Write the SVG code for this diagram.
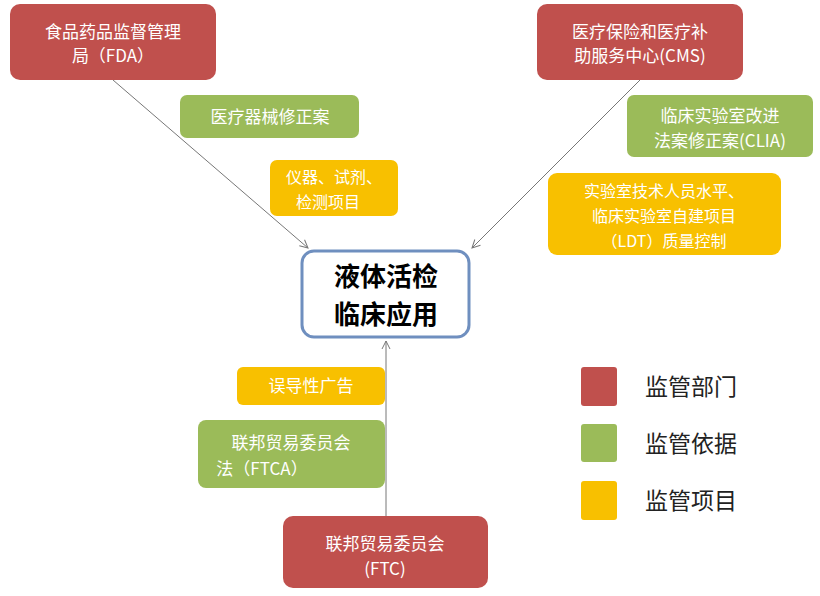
<svg xmlns="http://www.w3.org/2000/svg" width="820" height="596" viewBox="0 0 820 596">
<style>
text{font-family:"Noto Sans CJK SC","Liberation Serif",serif;text-anchor:middle}
.r{fill:#c0504d}.g{fill:#9bbb59}.y{fill:#f8c000}
.w{fill:#fff;font-size:17px}
.s{font-size:16px}
.k{fill:#000;font-size:26px;font-weight:bold}
.l{fill:#222;font-size:23px;text-anchor:start}
.c{stroke:#777;stroke-width:1;fill:none;marker-end:url(#a)}
</style>
<defs><marker id="a" markerWidth="10" markerHeight="10" refX="9" refY="5" orient="auto" markerUnits="userSpaceOnUse"><path d="M1,1L9,5L1,9" fill="none" stroke="#777"/></marker></defs>
<rect width="820" height="596" fill="#fff"/>
<g id="connectors">
<line class="c" x1="113" y1="80" x2="308" y2="248"/>
<line class="c" x1="640" y1="80" x2="472" y2="248"/>
<line class="c" x1="386" y1="516" x2="386" y2="341"/>
</g>
<g id="fda"><rect class="r" x="10" y="4" width="206" height="76" rx="10"/><text class="w" x="113" y="38">食品药品监督管理</text><text class="w" x="113" y="62">局（FDA）</text></g>
<g id="mda"><rect class="g" x="180" y="95" width="179" height="43" rx="7"/><text class="w" x="270" y="123">医疗器械修正案</text></g>
<g id="ins"><rect class="y" x="270" y="160" width="128" height="56" rx="7"/><text class="w s" x="334" y="183">仪器、试剂、</text><text class="w s" x="328" y="208">检测项目</text></g>
<g id="center"><rect x="302" y="251" width="167" height="86" rx="12" fill="#fff" stroke="#6f8fbf" stroke-width="3"/><text class="k" x="386" y="286">液体活检</text><text class="k" x="386" y="324">临床应用</text></g>
<g id="cms"><rect class="r" x="537" y="4" width="206" height="76" rx="10"/><text class="w" x="640" y="38">医疗保险和医疗补</text><text class="w" x="640" y="62">助服务中心(CMS)</text></g>
<g id="clia"><rect class="g" x="627" y="95" width="186" height="62" rx="7"/><text class="w" x="720" y="122">临床实验室改进</text><text class="w" x="720" y="147">法案修正案(CLIA)</text></g>
<g id="ldt"><rect class="y" x="548" y="173" width="233" height="82" rx="9"/><text class="w s" x="664" y="197">实验室技术人员水平、</text><text class="w s" x="664" y="222">临床实验室自建项目</text><text class="w s" x="664" y="247">（LDT）质量控制</text></g>
<g id="ad"><rect class="y" x="237" y="367" width="148" height="38" rx="6"/><text class="w" x="311" y="392">误导性广告</text></g>
<g id="ftca"><rect class="g" x="198" y="420" width="187" height="68" rx="8"/><text class="w" x="291" y="449">联邦贸易委员会</text><text class="w" x="262" y="475">法（FTCA）</text></g>
<g id="ftc"><rect class="r" x="283" y="516" width="205" height="72" rx="10"/><text class="w" x="385" y="550">联邦贸易委员会</text><text class="w" x="385" y="575">(FTC)</text></g>
<g id="legend">
<rect class="r" x="581" y="367" width="36" height="39" rx="3"/><text class="l" x="645" y="395">监管部门</text>
<rect class="g" x="581" y="424" width="36" height="38" rx="3"/><text class="l" x="645" y="452">监管依据</text>
<rect class="y" x="581" y="481" width="36" height="39" rx="3"/><text class="l" x="645" y="509">监管项目</text>
</g>
</svg>
